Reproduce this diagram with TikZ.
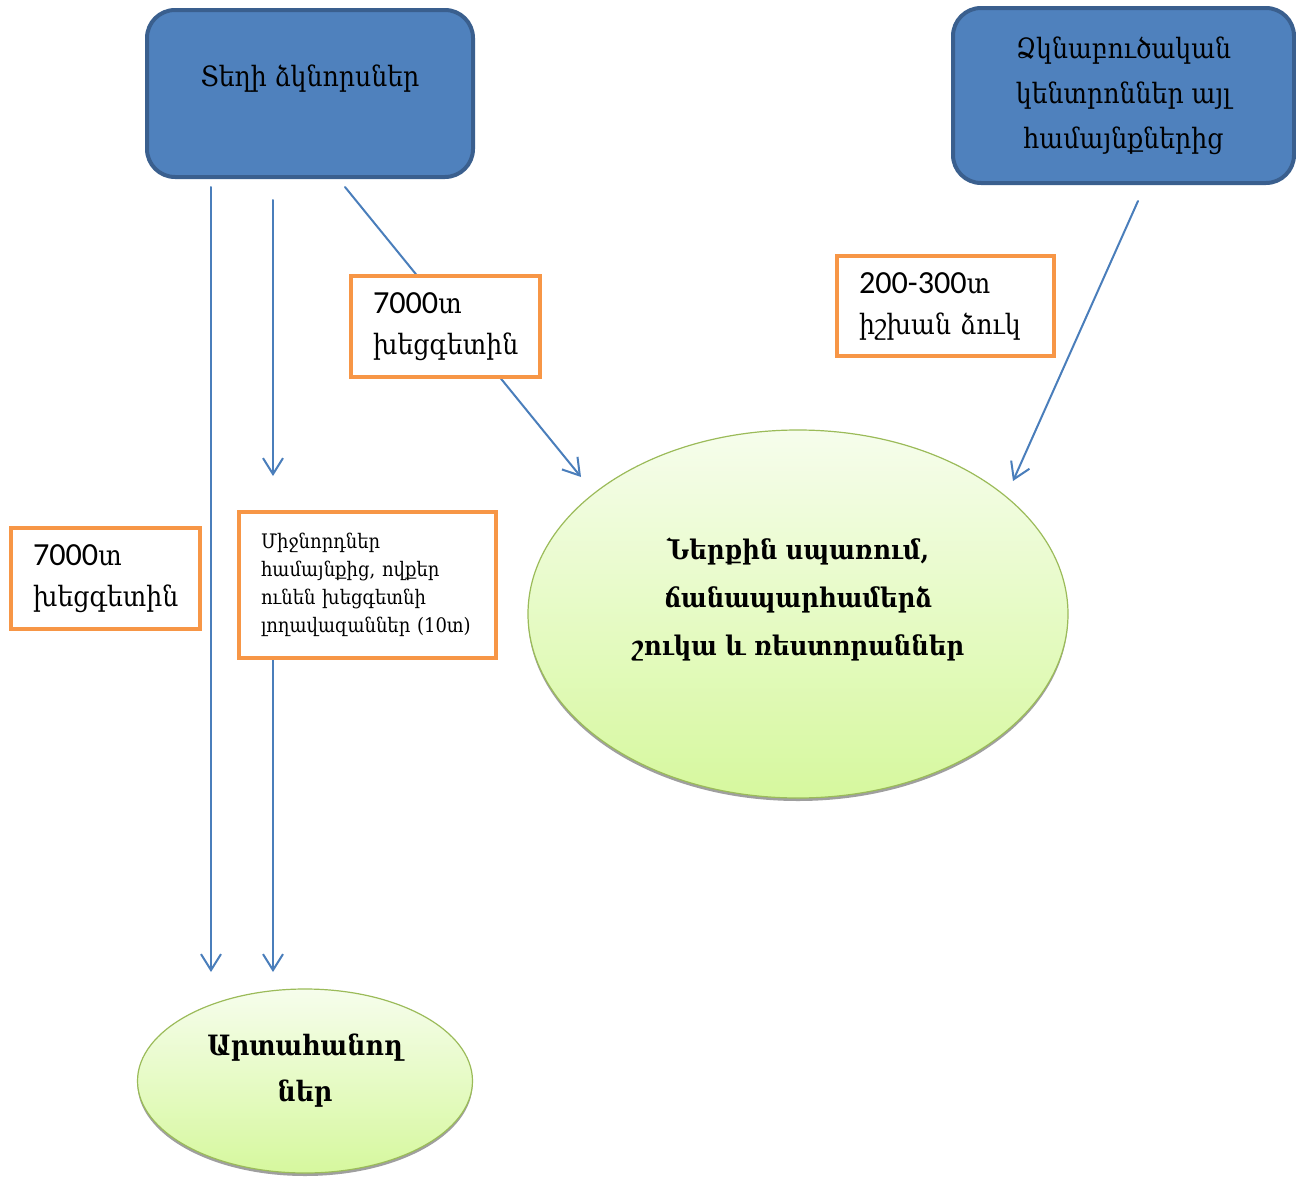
\documentclass[tikz,border=0pt]{standalone}
\usepackage{fontspec}
\setmainfont{DejaVu Serif}[FakeStretch=0.9]
\newfontfamily\calib{Carlito}[Scale=1.15]
\usetikzlibrary{shapes.geometric,shadows,arrows.meta}

\begin{document}
\begin{tikzpicture}
		[x=0.5pt,y=-0.5pt,line cap=round,
		%Styles
		source box/.style={draw=srcborder,fill=srcfill,line width=2pt,rounded corners=14pt,inner sep=0pt,align=center},
		amount box/.style={draw=amountborder,fill=white,line width=2pt,inner xsep=11pt,inner ysep=0pt,outer sep=0pt,align=left,anchor=north west},
		market/.style={ellipse,draw=marketborder,line width=0.6pt,top color=markettop,bottom color=marketbottom,inner sep=0pt,
			drop shadow={shadow xshift=0pt,shadow yshift=-1.5pt,fill=gray!75,opacity=1}},
		flow/.style={draw=flowcolor,line width=1pt,-{Straight Barb[length=8pt,width=10pt]}}
		]
		
		%Colors
		\definecolor{srcfill}{HTML}{4F81BD}
		\definecolor{srcborder}{HTML}{3A5F8E}
		\definecolor{amountborder}{HTML}{F79646}
		\definecolor{flowcolor}{HTML}{4A7EBB}
		\definecolor{marketborder}{HTML}{9BBB59}
		\definecolor{markettop}{HTML}{F6FDEC}
		\definecolor{marketbottom}{HTML}{D6F89E}
		
		\useasboundingbox (0,0) rectangle (1296,1178);
		
		%The graphic
		\node[source box,minimum width=163pt,minimum height=83.5pt,
			label={[yshift=7.5pt,font=\fontsize{14}{22.5}\selectfont]center:Տեղի ձկնորսներ}] (fishers) at (310,93.5) {};
		\node[source box,minimum width=170.5pt,minimum height=87.5pt,font=\fontsize{14}{22.5}\selectfont] (farms) at (1123.5,95.5)
			{Ձկնաբուծական\\կենտրոններ այլ\\համայնքներից};
		
		\node[market,minimum width=270pt,minimum height=184pt,
			label={[yshift=7.5pt,align=center,font=\bfseries\fontsize{13.5}{24}\selectfont]center:Ներքին սպառում,\\ճանապարհամերձ\\շուկա և ռեստորաններ}] (domestic) at (798,614) {};
		\node[market,minimum width=167.5pt,minimum height=92pt,
			label={[yshift=5pt,align=center,font=\bfseries\fontsize{14}{23}\selectfont]center:Արտահանող\\ներ}] (export) at (305,1081) {};
		
		\coordinate (fishers out1) at (211,187);
		\coordinate (fishers out2) at (273,200);
		\coordinate (fishers out3) at (345,187);
		\coordinate (farms out) at (1138,201);
		\coordinate (export in1) at (211,972);
		\coordinate (export in2) at (273,972);
		\coordinate (middle in) at (273,476);
		\coordinate (middle out) at (273,658);
		\coordinate (domestic in1) at (581,477);
		\coordinate (domestic in2) at (1013,481);
		
		\draw[flow] (fishers out1) -- (export in1);
		\draw[flow] (fishers out2) -- (middle in);
		\draw[flow] (middle out) -- (export in2);
		\draw[flow] (fishers out3) -- (domestic in1);
		\draw[flow] (farms out) -- (domestic in2);
		
		\node[amount box,minimum width=94.5pt,minimum height=50.5pt,text width=72.5pt,font=\fontsize{14}{20.5}\selectfont] (catch) at (351,276)
			{{\calib 7000}տ\\խեցգետին};
		\node[amount box,minimum width=108.5pt,minimum height=50pt,text width=86.5pt,font=\fontsize{14}{20.5}\selectfont] (trout) at (837,256)
			{{\calib 200-300}տ\\իշխան ձուկ};
		\node[amount box,minimum width=94.5pt,minimum height=50.5pt,text width=72.5pt,font=\fontsize{14}{20.5}\selectfont] (catch left) at (11,528)
			{{\calib 7000}տ\\խեցգետին};
		\node[amount box,minimum width=128.5pt,minimum height=73pt,text width=106.5pt,font=\fontsize{10}{14}\selectfont] (middle) at (239,512)
			{Միջնորդներ\\համայնքից, ովքեր\\ունեն խեցգետնի\\լողավազաններ (10տ)};
	\end{tikzpicture}
\end{document}
